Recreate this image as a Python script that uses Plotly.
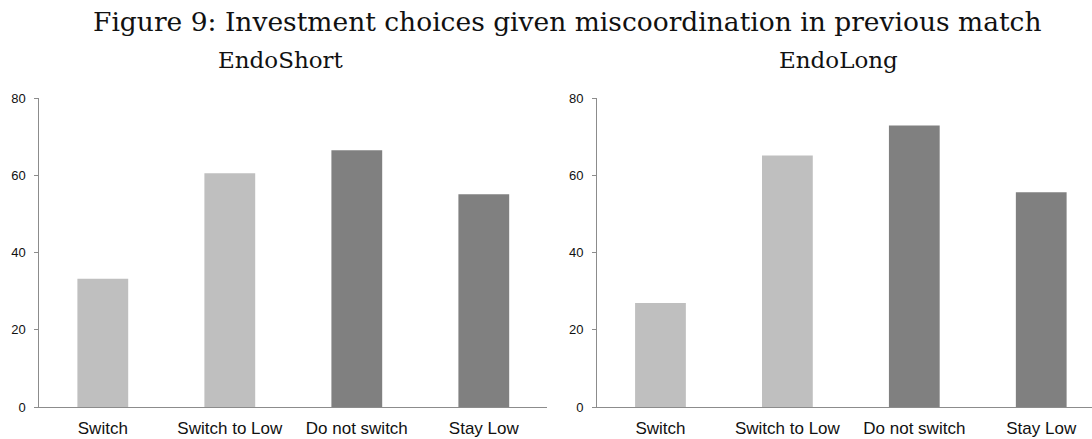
import plotly.graph_objects as go

categories = ["Switch", "Switch to Low", "Do not switch", "Stay Low"]
endo_short = [33.2, 60.5, 66.5, 55.1]
endo_long = [26.9, 65.1, 72.9, 55.6]
y_ticks = [0, 20, 40, 60, 80]

main_title = "Figure 9: Investment choices given miscoordination in previous match"
panel_titles = ["EndoShort", "EndoLong"]

bar_colors = ["#bfbfbf", "#bfbfbf", "#808080", "#808080"]
W, H = 1092, 439
axis_gray = "#8c8c8c"
serif = "DejaVu Serif, Liberation Serif, serif"
sans = "Arial, Liberation Sans, sans-serif"

fig = go.Figure()
fig.add_trace(go.Bar(x=categories, y=endo_short, width=0.4,
                     marker=dict(color=bar_colors, line=dict(width=0)),
                     xaxis="x", yaxis="y", showlegend=False))
fig.add_trace(go.Bar(x=categories, y=endo_long, width=0.4,
                     marker=dict(color=bar_colors, line=dict(width=0)),
                     xaxis="x2", yaxis="y2", showlegend=False))

xcommon = dict(type="category", showgrid=False, zeroline=False, showline=True,
               linecolor=axis_gray, linewidth=1, ticks="",
               tickfont=dict(family=sans, size=17, color="#111111"),
               ticklabelstandoff=6, fixedrange=True)
ycommon = dict(range=[0, 80], tickvals=y_ticks, showgrid=False, zeroline=False,
               showline=True, linecolor=axis_gray, linewidth=1,
               ticks="outside", ticklen=4, tickcolor=axis_gray, tickwidth=1,
               tickfont=dict(family=sans, size=13, color="#111111"),
               ticklabelstandoff=6, fixedrange=True)

fig.update_layout(
    width=W, height=H,
    margin=dict(l=0, r=0, t=98, b=32),
    paper_bgcolor="white", plot_bgcolor="white",
    bargap=0.6,
    xaxis=dict(domain=[39.3 / W, 547.3 / W], range=[-0.5, 3.5], anchor="y", **xcommon),
    yaxis=dict(domain=[0, 1], anchor="x", **ycommon),
    xaxis2=dict(domain=[597.0 / W, 1.0], range=[-0.5, 3.4], anchor="y2", **xcommon),
    yaxis2=dict(domain=[0, 1], anchor="x2", **ycommon),
    annotations=[
        dict(text=main_title, xref="paper", yref="paper", x=567 / W, y=1.247,
             xanchor="center", yanchor="middle", showarrow=False,
             font=dict(family=serif, size=26.5, color="#111111")),
        dict(text=panel_titles[0], xref="paper", yref="paper", x=280.5 / W, y=1.1228,
             xanchor="center", yanchor="middle", showarrow=False,
             font=dict(family=serif, size=23, color="#111111")),
        dict(text=panel_titles[1], xref="paper", yref="paper", x=838.3 / W, y=1.1228,
             xanchor="center", yanchor="middle", showarrow=False,
             font=dict(family=serif, size=23, color="#111111")),
    ],
)

fig.write_html("out.html", config={"displayModeBar": False},
               post_script="document.body.style.margin='0';document.body.style.overflow='hidden';")
